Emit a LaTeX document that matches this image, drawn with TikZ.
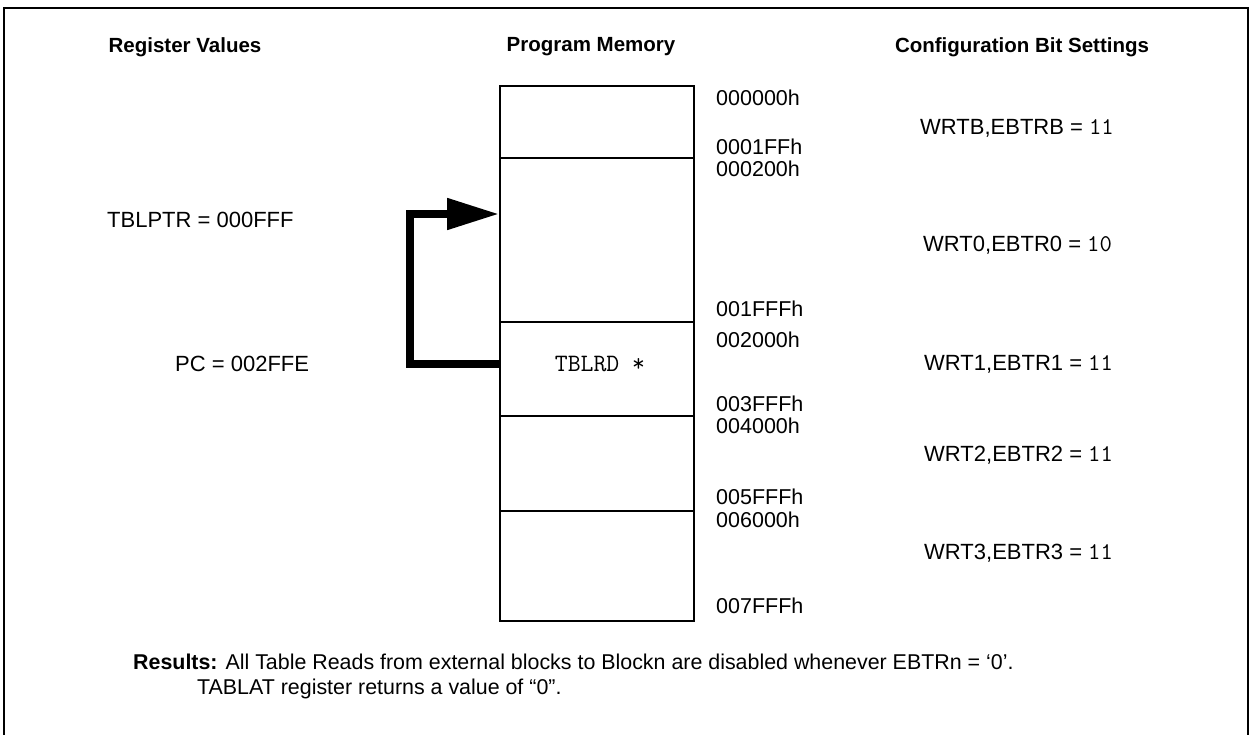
\documentclass[tikz,border=0pt]{standalone}
\usepackage{fontspec}
\setmainfont{Liberation Sans}
\usetikzlibrary{arrows.meta}
\tikzset{
  hdr/.style={font=\fontsize{20.5}{24}\selectfont\bfseries},
  txt/.style={font=\fontsize{22}{26}\selectfont, inner sep=0pt, anchor=west},
  restxt/.style={font=\fontsize{21.4}{26}\selectfont, inner sep=0pt, anchor=west},
  addr/.style={font=\fontsize{21.5}{26}\selectfont, inner sep=0pt, anchor=west},
  memblk/.style={draw, line width=1.6pt, minimum width=194pt, inner sep=0pt, anchor=north west},
  bigarrow/.style={line width=8pt, -{Triangle[length=52pt,width=30pt]}},
  frame/.style={line width=2pt}
}
\newcommand{\mono}[1]{{\ttfamily\fontsize{24}{26}\selectfont #1}}
\begin{document}
\begin{tikzpicture}[x=1pt,y=-1pt]
\useasboundingbox (0,0) rectangle (1252,735);
\draw[frame] (4,760) -- (4,8) -- (1248,8) -- (1248,760);
% headers
\node[hdr] (h1) at (185,47) {Register Values};
\node[hdr] (h2) at (591,47) {Program Memory};
\node[hdr] (h3) at (1022,47) {Configuration Bit Settings};
% memory blocks
\node[memblk, minimum height=72pt] (b0) at (499,85) {};
\node[memblk, minimum height=164pt] (b1) at (499,157) {};
\node[memblk, minimum height=94pt] (b2) at (499,321) {};
\node[memblk, minimum height=95pt] (b3) at (499,415) {};
\node[memblk, minimum height=110pt] (b4) at (499,510) {};
\node[font=\ttfamily\fontsize{25}{27}\selectfont] (rd) at (600,364) {TBLRD *};
% addresses
\node[addr] (a0) at (716,98) {000000h};
\node[addr] (a1) at (716,147) {0001FFh};
\node[addr] (a2) at (716,169) {000200h};
\node[addr] (a3) at (716,309) {001FFFh};
\node[addr] (a4) at (716,340) {002000h};
\node[addr] (a5) at (716,404) {003FFFh};
\node[addr] (a6) at (716,426) {004000h};
\node[addr] (a7) at (716,497) {005FFFh};
\node[addr] (a8) at (716,520) {006000h};
\node[addr] (a9) at (716,606) {007FFFh};
% config
\node[txt] (c0) at (920,128) {WRTB,EBTRB = \mono{11}};
\node[txt] (c1) at (923,245) {WRT0,EBTR0 = \mono{10}};
\node[txt] (c2) at (924,364) {WRT1,EBTR1 = \mono{11}};
\node[txt] (c3) at (924,455) {WRT2,EBTR2 = \mono{11}};
\node[txt] (c4) at (924,553) {WRT3,EBTR3 = \mono{11}};
% registers
\node[txt] (tp) at (107,220) {TBLPTR = 000FFF};
\node[txt] (pc) at (175,364) {PC = 002FFE};
% arrow
\coordinate (src) at (499,364);
\coordinate (tip) at (499,214);
\coordinate (bend) at (410,0);
\draw[bigarrow] (src) -- (src -| bend) |- (tip);
% results
\node[restxt] (r1) at (133,662) {\textbf{Results:} All Table Reads from external blocks to Blockn are disabled whenever EBTRn = ‘0’.};
\node[restxt] (r2) at (197,689) {TABLAT register returns a value of “0”.};
\end{tikzpicture}
\end{document}
